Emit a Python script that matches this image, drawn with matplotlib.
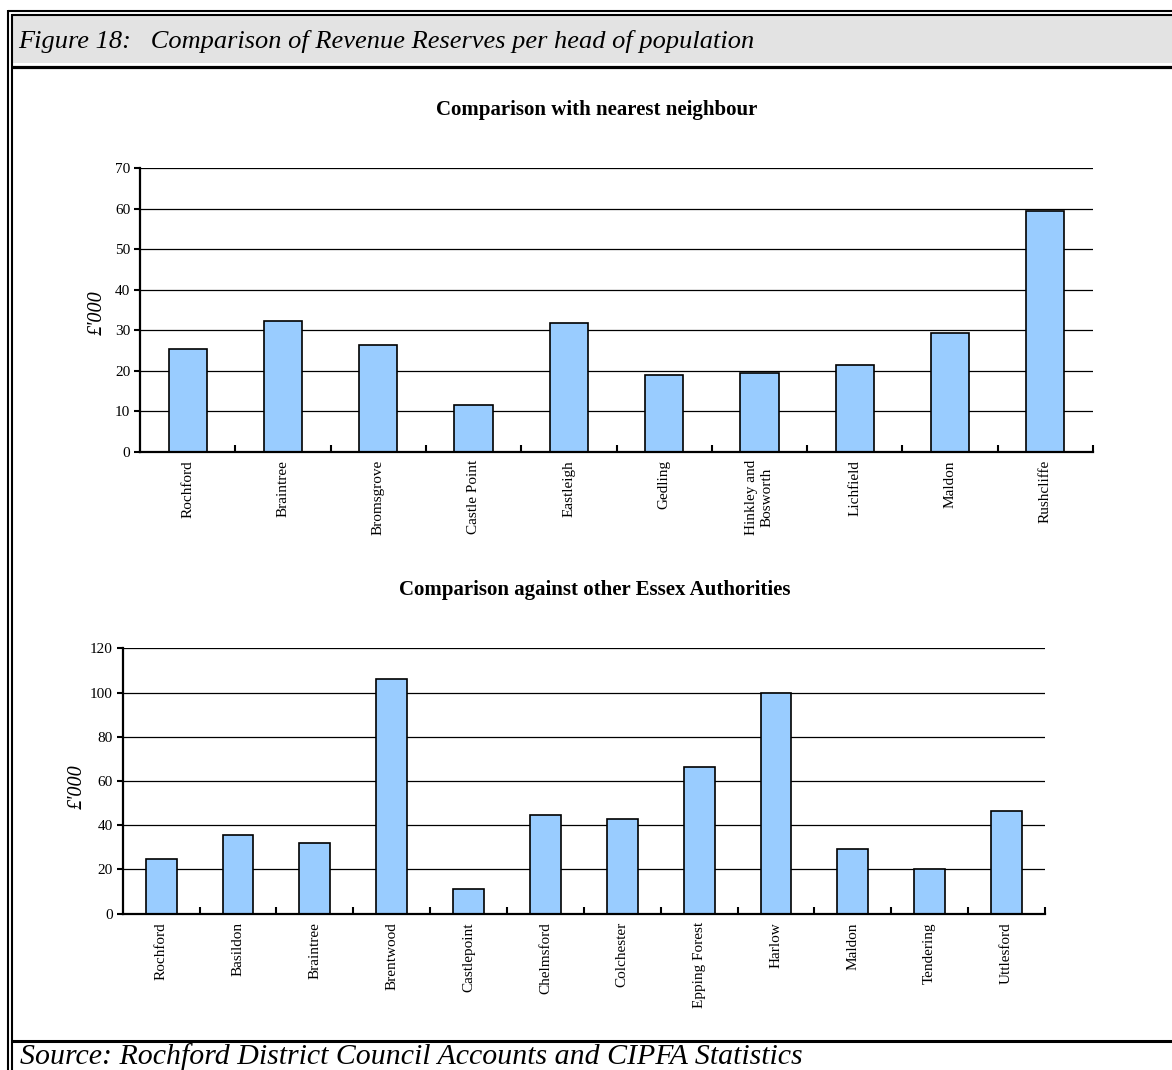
import numpy as np
import matplotlib.pyplot as plt
from matplotlib.lines import Line2D
from matplotlib.patches import Rectangle

plt.rcParams['font.family'] = ['Liberation Serif', 'DejaVu Serif']

# revenue reserves per head, £'000
neighbours = ['Rochford', 'Braintree', 'Bromsgrove', 'Castle Point', 'Eastleigh',
              'Gedling', 'Hinkley and\nBosworth', 'Lichfield', 'Maldon', 'Rushcliffe']
neighbour_vals = [25.4, 32.3, 26.4, 11.6, 31.9, 19.0, 19.5, 21.5, 29.4, 59.5]

essex = ['Rochford', 'Basildon', 'Braintree', 'Brentwood', 'Castlepoint', 'Chelmsford',
         'Colchester', 'Epping Forest', 'Harlow', 'Maldon', 'Tendering', 'Uttlesford']
essex_vals = [24.9, 35.7, 32.1, 106.2, 11.3, 44.8, 42.9, 66.5, 99.9, 29.4, 20.3, 46.6]

W, H = 1172, 1070
fig = plt.figure(figsize=(W / 100, H / 100), dpi=100)


def fx(px):
    return px / W


def fy(py):
    return 1 - py / H


def hline(y, x0, x1, lw):
    fig.add_artist(Line2D([fx(x0), fx(x1)], [fy(y), fy(y)], color='black',
                          linewidth=lw, solid_capstyle='butt', transform=fig.transFigure))


def vline(x, y0, y1, lw):
    fig.add_artist(Line2D([fx(x), fx(x)], [fy(y0), fy(y1)], color='black',
                          linewidth=lw, solid_capstyle='butt', transform=fig.transFigure))


# frame and header band
fig.add_artist(Rectangle((fx(13), fy(63)), fx(W - 13), 47 / H, facecolor='#E3E3E3',
                         edgecolor='none', transform=fig.transFigure))
hline(11, 7.5, W, 1.5)
hline(15, 11.5, W, 1.5)
vline(8.3, 10, H, 1.5)
vline(12, 14, H, 1.5)
hline(67, 12, W, 2.3)
hline(1041, 12, W, 2.2)

fig.text(fx(18), fy(48), 'Figure 18:   Comparison of Revenue Reserves per head of population',
         fontsize=19, style='italic', va='baseline', ha='left')
fig.text(fx(20), fy(1064), 'Source: Rochford District Council Accounts and CIPFA Statistics',
         fontsize=21.5, style='italic', va='baseline', ha='left')


def bar_chart(left, right, base, top, names, vals, ymax, step, title, title_xy, ylab_xy, lab_pad):
    ax = fig.add_axes([fx(left), fy(base), fx(right - left), (base - top) / H])
    n = len(names)
    x = np.arange(n)
    ax.bar(x, vals, width=0.4, color='#99CCFF', edgecolor='black', linewidth=1.2, zorder=3)
    ax.set_xlim(-0.5, n - 0.5)
    ax.set_ylim(0, ymax)
    ax.set_yticks(np.arange(0, ymax + 1, step))
    ax.yaxis.grid(True, color='black', linewidth=0.9)
    ax.set_axisbelow(True)
    for s in ['top', 'right']:
        ax.spines[s].set_visible(False)
    for s in ['left', 'bottom']:
        ax.spines[s].set_linewidth(1.6)
        ax.spines[s].set_zorder(4)
    ax.tick_params(axis='y', length=4, width=1.5, pad=3, labelsize=11)
    # boundary ticks between categories, pointing up
    ax.set_xticks(np.arange(1, n + 1) - 0.5)
    ax.set_xticklabels([])
    ax.tick_params(axis='x', which='major', direction='in', length=5, width=1.5)
    ax.set_xticks(x, names, minor=True)
    ax.tick_params(axis='x', which='minor', length=0, pad=lab_pad, labelsize=11)
    for lab in ax.get_xticklabels(minor=True):
        lab.set_rotation(90)
        lab.set_multialignment('center')
    fig.text(fx(title_xy[0]), fy(title_xy[1]), title, fontsize=15, fontweight='bold',
             ha='center', va='center')
    fig.text(fx(ylab_xy[0]), fy(ylab_xy[1]), "£'000", fontsize=14.5, style='italic',
             rotation=90, ha='center', va='center')
    return ax


bar_chart(140, 1093, 451.7, 168.3, neighbours, neighbour_vals, 70, 10,
          'Comparison with nearest neighbour', (597, 110), (97, 313), 6)
bar_chart(122.7, 1045, 913.7, 648.3, essex, essex_vals, 120, 20,
          'Comparison against other Essex Authorities', (595, 590), (77, 787), 6)

fig.savefig('out.png', dpi=100)
